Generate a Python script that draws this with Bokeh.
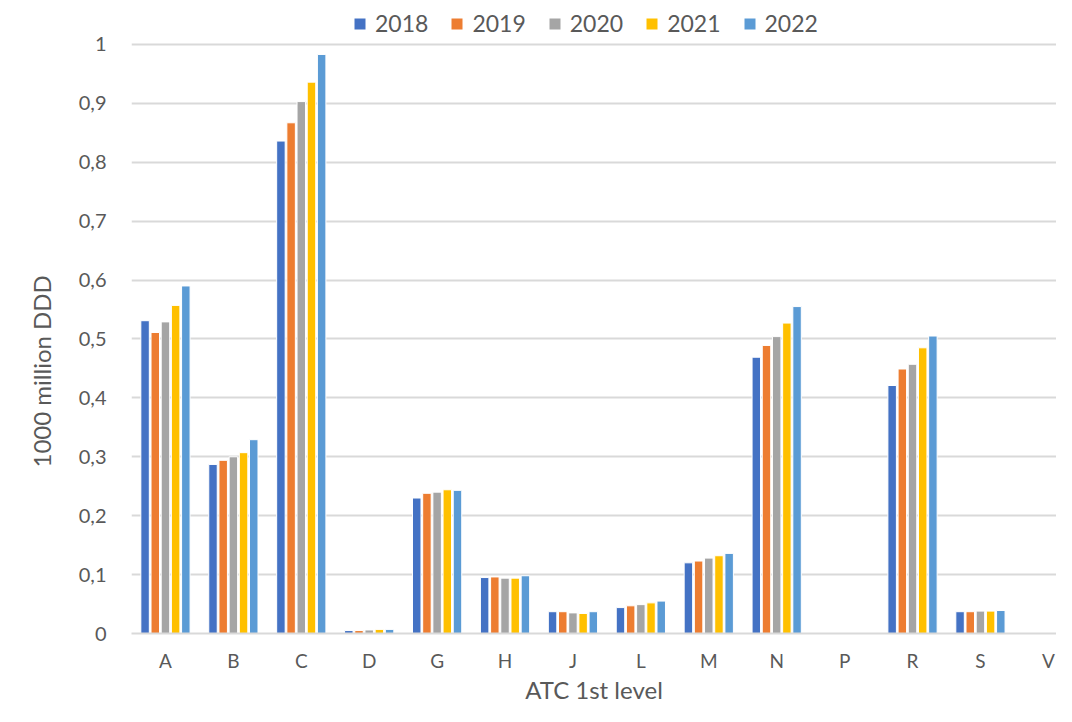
from bokeh.plotting import figure
from bokeh.models import (ColumnDataSource, Range1d, FixedTicker, CustomJSTickFormatter,
                          Legend, LegendItem, Title)
from bokeh.transform import dodge
from bokeh.embed import file_html
from bokeh.resources import INLINE

categories = ["A", "B", "C", "D", "G", "H", "J", "L", "M", "N", "P", "R", "S", "V"]
years = ["2018", "2019", "2020", "2021", "2022"]
v2018 = [0.531, 0.287, 0.836, 0.005, 0.230, 0.095, 0.037, 0.044, 0.120, 0.469, 0.001, 0.421, 0.037, 0.0005]
v2019 = [0.511, 0.294, 0.867, 0.005, 0.238, 0.096, 0.037, 0.047, 0.123, 0.489, 0.001, 0.449, 0.037, 0.0005]
v2020 = [0.529, 0.300, 0.903, 0.006, 0.240, 0.094, 0.035, 0.049, 0.128, 0.504, 0.001, 0.457, 0.038, 0.0008]
v2021 = [0.557, 0.307, 0.936, 0.007, 0.244, 0.094, 0.034, 0.052, 0.132, 0.527, 0.001, 0.485, 0.038, 0.0010]
v2022 = [0.590, 0.329, 0.983, 0.007, 0.243, 0.098, 0.037, 0.055, 0.136, 0.555, 0.001, 0.505, 0.039, 0.0010]
colors = ["#4472C4", "#ED7D31", "#A5A5A5", "#FFC000", "#5B9BD5"]
y_ticks = [0, 0.1, 0.2, 0.3, 0.4, 0.5, 0.6, 0.7, 0.8, 0.9, 1.0]

series = [v2018, v2019, v2020, v2021, v2022]
data = {"x": list(range(len(categories)))}
for y, vals in zip(years, series):
    data["y" + y] = vals
src = ColumnDataSource(data)

TXT = "#595959"
FONT = "Lato"

p = figure(width=1056, height=706, output_backend="svg", toolbar_location=None,
           x_range=Range1d(-0.5, 13.12), y_range=Range1d(0, 1.0746),
           min_border_left=131, min_border_right=0, min_border_top=0, min_border_bottom=72)
p.outline_line_color = None
p.background_fill_color = "white"
p.border_fill_color = "white"

offsets = [-0.30, -0.15, 0.0, 0.15, 0.30]
renderers = []
for y, c, off in zip(years, colors, offsets):
    r = p.vbar(x=dodge("x", off), top="y" + y, width=0.125, source=src,
               fill_color=c, line_color="white", line_width=1)
    renderers.append(r)

# x axis
p.xaxis.ticker = FixedTicker(ticks=list(range(len(categories))))
p.xaxis.major_label_overrides = {i: c for i, c in enumerate(categories)}
p.xaxis.axis_line_color = "#D9D9D9"
p.xaxis.axis_line_width = 2
p.xaxis.major_tick_line_color = None
p.xaxis.minor_tick_line_color = None
p.xaxis.major_tick_out = 0
p.xaxis.major_tick_in = 0
p.xaxis.major_label_text_font = FONT
p.xaxis.major_label_text_font_size = "19px"
p.xaxis.major_label_text_color = TXT
p.xaxis.major_label_standoff = 15
p.xaxis.axis_label = "ATC 1st level"
p.xaxis.axis_label_text_font = FONT
p.xaxis.axis_label_text_font_size = "24px"
p.xaxis.axis_label_text_font_style = "normal"
p.xaxis.axis_label_text_color = TXT
p.xaxis.axis_label_standoff = 0

# y axis
p.yaxis.ticker = FixedTicker(ticks=y_ticks)
p.yaxis.formatter = CustomJSTickFormatter(code="""
if (Math.abs(tick - Math.round(tick)) < 1e-9) return Math.round(tick).toString();
return tick.toFixed(1).replace('.', ',');
""")
p.yaxis.axis_line_color = None
p.yaxis.major_tick_line_color = None
p.yaxis.minor_tick_line_color = None
p.yaxis.major_label_text_font = FONT
p.yaxis.major_label_text_font_size = "20px"
p.yaxis.major_label_text_color = TXT
p.yaxis.major_label_standoff = 19

ytitle = Title(text="1000 million DDD", align="left", offset=166, vertical_align="bottom",
               standoff=40, text_font=FONT, text_font_size="24px",
               text_font_style="normal", text_color=TXT)
p.add_layout(ytitle, "left")

p.xgrid.grid_line_color = None
p.ygrid.grid_line_color = "#D9D9D9"
p.ygrid.grid_line_width = 2

legend = Legend(items=[LegendItem(label=y, renderers=[r]) for y, r in zip(years, renderers)],
                orientation="horizontal", location=(221, 596),
                border_line_color=None, background_fill_alpha=0,
                label_text_font=FONT, label_text_font_size="23px", label_text_color=TXT,
                glyph_width=15, glyph_height=15, label_standoff=8, spacing=21,
                padding=0, margin=0)
p.add_layout(legend, "center")

open("out.html", "w").write(file_html(p, INLINE))
